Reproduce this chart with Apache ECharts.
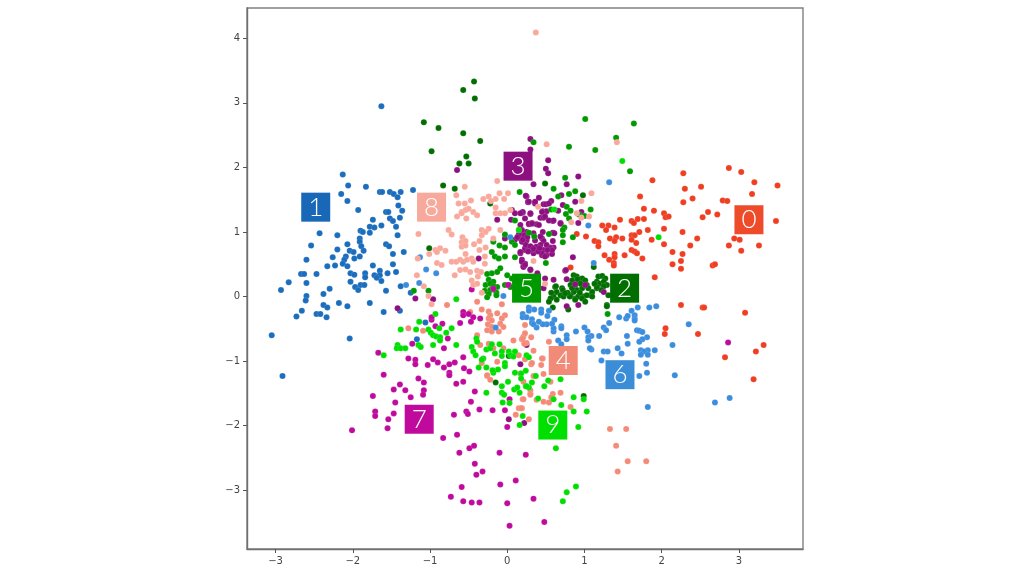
<!DOCTYPE html>
<html><head><meta charset="utf-8">
<style>html,body{margin:0;padding:0;background:#fff}#c{width:1024px;height:576px}</style>
<script src="https://cdn.jsdelivr.net/npm/echarts@6/dist/echarts.min.js"></script></head>
<body><div id="c"></div>
<script>
const tickX=[-3,-2,-1,0,1,2,3];
const tickY=[-3,-2,-1,0,1,2,3,4];
const digits=['0','1','2','3','4','5','6','7','8','9'];
const colors=['#f03e22','#1b6dbd','#006f00','#8e0f80','#f58a78','#009a00','#3b8dde','#c00a9e','#f9a99b','#00e000'];
const boxColors=['#ee4b2b','#1868b7','#006f00','#8e0f80','#f28a78','#009a00','#3b8dd8','#c00a9e','#f7a99b','#00e000'];
const labelPositions=[[3.13,1.19],[-2.48,1.385],[1.52,.13],[.14,2.02],[.725,-.99],[.25,.13],[1.46,-1.21],[-1.14,-1.9],[-.98,1.385],[.59,-1.99]];

const points0=[[2.87,1.99],[3.03,1.93],[3.2,1.77],[3.5,1.72],[2.28,1.91],[1.88,1.8],[2.3,1.67],[2.51,1.7],[3.17,1.59],[1.72,1.55],[2.4,1.52],[2.28,1.46],[2.79,1.49],[2.85,1.48],[1.77,1.36],[1.9,1.33],[2.03,1.29],[2.05,1.23],[2.09,1.24],[2.6,1.31],[2.72,1.27],[2.53,1.23],[3.48,1.17],[1.46,1.19],[1.61,1.17],[1.64,1.14],[1.69,1.2],[1.77,1.2],[1.23,1.1],[1.31,1.1],[1.28,1.03],[1.39,1.07],[1.82,1.03],[2.03,1.05],[1.71,1],[2.27,1],[.9,.97],[1.02,.93],[1.61,.95],[1.65,.95],[1.33,.9],[1.41,.92],[1.49,.9],[1.39,.86],[1.61,.88],[1.87,.88],[2.46,.9],[2.94,.9],[3.01,.88],[1.13,.86],[1.18,.84],[1.18,.78],[1.67,.83],[2.03,.81],[2.37,.79],[2.87,.79],[3.26,.79],[3.03,.71],[1.61,.72],[1.65,.7],[1.68,.67],[2.14,.69],[2.27,.66],[1.26,.64],[1.39,.66],[1.52,.64],[1.75,.59],[1.32,.57],[1.39,.61],[1.38,.52],[1.38,.48],[2.25,.55],[2.14,.5],[2.25,.43],[2.66,.48],[2.69,.5],[.82,.45],[1.91,.3],[2.25,-.13],[2.53,-.17],[2.55,-.17],[3.08,-.25],[2.05,-.49],[2.04,-.58],[2.47,-.58],[3.32,-.75],[3.22,-.85],[2.82,-.94],[3.19,-1.28]];
const points1=[[-1.63,2.95],[-2.13,1.89],[-2.06,1.72],[-2.15,1.59],[-2.07,1.48],[-1.83,1.7],[-1.65,1.62],[-1.62,1.62],[-1.52,1.62],[-1.47,1.59],[-1.42,1.54],[-1.38,1.62],[-1.22,1.65],[-1.93,1.34],[-1.41,1.41],[-1.36,1.33],[-1.57,1.31],[-1.54,1.31],[-1.74,1.19],[-1.52,1.21],[-1.48,1.17],[-1.39,1.22],[-1.63,1.1],[-1.44,1.08],[-1.78,1.08],[-1.72,1.07],[-1.9,1.02],[-1.87,1],[-1.78,.99],[-2.43,.98],[-2.2,.95],[-1.42,.95],[-1.91,.9],[-1.91,.85],[-2.07,.81],[-2.54,.79],[-1.89,.78],[-1.57,.81],[-1.53,.78],[-2.2,.73],[-2.04,.71],[-1.99,.69],[-1.86,.71],[-1.34,.69],[-1.48,.66],[-2.26,.61],[-2.6,.57],[-2.09,.62],[-2.11,.57],[-1.98,.59],[-1.91,.62],[-2.13,.51],[-2.23,.48],[-2.33,.47],[-2.07,.47],[-1.74,.48],[-1.48,.5],[-1.44,.38],[-1.65,.4],[-1.55,.36],[-2.03,.36],[-1.98,.34],[-1.84,.36],[-1.72,.33],[-1.65,.33],[-1.84,.3],[-1.69,.29],[-2.47,.35],[-2.67,.35],[-2.63,.35],[-2.6,.21],[-2.83,.22],[-2.03,.23],[-1.63,.24],[-1.9,.18],[-1.85,.18],[-1.97,.15],[-2.3,.12],[-2.93,.1],[-1.93,.1],[-1.57,.09],[-1.38,.16],[-2.6,.01],[-2.61,-.06],[-2.38,.04],[-2.38,-.13],[-2.33,-.17],[-2.18,-.1],[-2.66,-.22],[-2.73,-.31],[-2.47,-.27],[-2.42,-.27],[-2.34,-.32],[-2.07,-.15],[-1.78,-.1],[-1.6,-.24],[-3.05,-.6],[-2.91,-1.23],[-2.04,-.65],[-1.25,.06],[-1.39,-.22],[-1.17,-.66],[-1.06,-.4]];
const points2=[[-.43,3.33],[-.57,3.2],[-.42,3.07],[-1.08,2.7],[-.89,2.61],[-.57,2.53],[-.35,2.41],[-.98,2.25],[-.53,2.17],[-.62,2.06],[-.5,2.06],[-.83,1.72],[-.68,1.67],[-1.01,.75],[-.22,1.44],[.49,1.75],[.98,1.57],[.86,.33],[.9,.31],[.84,.25],[.92,.23],[.88,.18],[.82,.18],[.97,.28],[1.01,.25],[1.03,.18],[1.05,.13],[.97,.13],[.9,.1],[.86,.07],[.82,.02],[.88,-.03],[.92,0],[.99,0],[1.08,.02],[1.18,.31],[1.23,.32],[1.27,.28],[1.16,.23],[1.2,.2],[1.25,.23],[1.29,.18],[1.16,.13],[1.1,.07],[.62,.15],[.64,.07],[.69,.02],[.6,0],[.56,-.03],[.54,-.08],[.64,-.05],[.71,.13],[1.29,-.13],[1.29,-.15],[.59,-.17],[.79,-.2],[.99,-1.54],[1.25,.16],[1.31,.02],[.72,.1],[.63,.16],[.57,.06],[.73,0],[.84,.13],[.81,0],[.88,-.05],[.97,-.03],[1.03,.02],[1.1,0],[1.01,-.08],[1.16,.15],[1.22,.1],[1.12,.46],[-.15,-1.33],[.02,-.92],[.94,.06],[.78,.06],[.91,.27],[.95,.2],[.75,.05],[1.13,.2]];
const points3=[[.3,2.44],[.3,2.28],[.53,2.11],[.5,1.98],[.53,1.91],[.34,1.74],[.92,1.86],[.77,1.74],[.41,1.53],[.25,1.55],[.36,1.44],[.27,1.46],[.57,1.48],[.7,1.57],[.72,1.42],[.88,1.47],[.66,1.33],[.47,1.43],[.5,1.43],[.46,1.32],[.51,1.32],[.2,1.3],[.3,1.28],[.43,1.22],[.47,1.22],[.59,1.17],[.69,1.14],[.92,1.14],[.96,1.31],[.38,1.12],[.28,1.12],[.32,1.14],[.46,1],[.59,.99],[.61,.98],[.45,.9],[.59,.86],[.47,.86],[.43,.8],[.6,.76],[.56,.76],[.36,.76],[.28,.75],[.23,.72],[.45,.64],[.51,.64],[.58,.66],[.85,.61],[.34,.67],[.23,.51],[.21,.47],[.3,.41],[.75,.4],[.39,.36],[-.65,1.96],[.24,1.56],[.27,1.47],[.06,1.34],[.1,1.29],[.2,1.31],[.05,1.19],[-.13,1.19],[.17,1.11],[.2,1],[.25,1],[.1,.88],[.17,.9],[.21,.85],[.23,.75],[.17,.67],[.19,.57],[.23,.51],[.21,.46],[-.03,.9],[-.37,.59],[.17,1.29],[.23,1.21],[.28,1.47],[.36,1.47],[.54,1.44],[.3,1.29],[.45,1.31],[.49,1.24],[.28,1.13],[.32,1.13],[.41,1.11],[.19,1.03],[.23,.95],[.17,.93],[.25,.87],[.19,.85],[.36,.87],[.38,.77],[.28,.75],[.32,.72],[.17,.69],[.47,.72],[.51,.8],[.56,.75],[.45,.67],[.49,.62],[.58,.72],[.19,.54],[.23,.49],[.3,.42],[.34,.98],[.43,.93],[.54,1.18],[.69,1.13],[.6,1.18],[.76,.41],[.6,.26],[.49,.28],[.77,.27],[.88,.19],[1.01,.18],[1.25,.07],[.77,-.15],[.92,-.13],[.47,.13],[-.18,.11],[.02,.18],[-1.19,-.03],[-1.42,-.18],[.17,-1.05],[.02,-1.9],[.22,-1.96],[-.96,-.04],[.25,-.75],[.22,.95],[.26,.92],[.2,.88],[.24,.8],[.3,.78],[.34,.74],[.4,.7],[.52,.72],[.42,.75],[.27,.7],[.15,.96],[.13,.92]];
const points4=[[-.78,-.13],[-1.28,-.49],[-1.09,-.53],[-.07,-.12],[-.39,-.08],[-.48,-.24],[-.33,-.2],[-.24,-.23],[-.22,-.29],[-.24,-.34],[-.2,-.37],[-.25,-.43],[-.2,-.47],[-.26,-.52],[-.13,-.26],[-.03,-.29],[-.07,-.34],[-.09,-.42],[-.05,-.47],[-.11,-.54],[-.2,-.54],[-.39,-.6],[.08,-.68],[.21,-.62],[.23,-.57],[.19,-.66],[.25,-.72],[-.24,-.73],[-.35,-.75],[-.18,-.8],[-.05,-.8],[.15,-.91],[-.13,-1.01],[-.33,-1.03],[-.26,-1.23],[.2,-1.59],[.15,-1.73],[.19,-1.73],[.11,-1.83],[.28,-1.9],[.21,-1.32],[.3,-1.5],[.23,-.44],[.2,-.65],[.31,-.63],[.22,-.73],[.54,-.7],[.34,-.84],[.46,-.96],[.44,-1.06],[.31,-1.05],[.47,-1.2],[.23,-.97],[.56,-1.32],[.34,-1.23],[.3,-1.45],[.3,-1.52],[.69,-1.49],[.59,-1.51],[.57,-1.56],[.38,-1.6],[.47,-1.63],[.54,-1.64],[.21,-1.59],[.82,-1.71],[.18,-1.73],[1.33,-2.05],[1.54,-2.05],[1.41,-2.31],[1.56,-2.55],[1.8,-2.55],[1.43,-2.71],[.32,-1.03],[.45,-.96],[.17,-1.19],[-.26,-1.22],[-.22,-1.29]];
const points5=[[1.01,2.75],[1.64,2.68],[1.41,2.46],[.8,2.32],[1.14,2.27],[1.59,1.94],[.34,2.39],[.75,1.84],[.6,1.67],[.8,1.59],[.88,1.63],[.66,1.55],[.77,1.39],[.82,1.33],[.76,1.28],[.8,1.21],[.93,1.27],[1,1.25],[1.08,1.35],[.57,1.35],[.74,1.07],[.72,1.03],[.72,.95],[.54,.97],[.85,.92],[.72,.84],[.5,.52],[.35,.93],[.28,.99],[.16,1.62],[-.03,.96],[-.1,.79],[-.03,.76],[-.18,.85],[-.2,.69],[-.16,.62],[-.11,.59],[-.03,.62],[.1,.61],[.1,1.18],[.15,1.03],[-1.02,.09],[-1.21,.09],[-.09,.44],[-.13,.38],[-.2,.36],[-.26,.35],[-.24,.26],[-.18,.23],[0,.33],[.06,.28],[-.28,.18],[-.13,.15],[-.03,.18],[.04,.15],[-.22,.1],[.06,.85],[.1,.8],[-.29,.09],[-.24,.04],[-.26,-.01],[-.14,.06],[-.14,.02],[-.22,.2],[-.18,.16],[1.3,-.27]];
const points6=[[1.93,-.15],[1.84,-.17],[1.69,-.17],[1.61,-.22],[1.65,-.29],[1.65,-.34],[1.65,-.37],[1.54,-.34],[1.56,-.3],[1.45,-.32],[1.32,-.41],[1.25,-.48],[1.28,-.52],[2.35,-.43],[1,-.48],[1.04,-.54],[1.09,-.61],[1.05,-.63],[1.05,-.68],[1.19,-.61],[.89,-.54],[.77,-.6],[.77,-.66],[.7,-.46],[.7,-.49],[.6,-.54],[.6,-.49],[.61,-.36],[.58,-.42],[.51,-.43],[.46,-.43],[.52,-.3],[.54,-.22],[.44,-.2],[.44,-.25],[.35,-.2],[.28,-.17],[.28,-.22],[.2,-.27],[.2,-.32],[.25,-.32],[.32,-.35],[.32,-.41],[.38,-.48],[.34,-.43],[.41,-.39],[1.55,-.61],[1.68,-.52],[1.71,-.53],[1.75,-.55],[1.81,-.63],[1.75,-.66],[1.71,-.7],[1.56,-.73],[2.14,-.75],[1.09,-.82],[1.07,-.8],[1.43,-.8],[1.48,-.88],[1.25,-.85],[1.3,-.85],[1.22,-.99],[1.91,-.83],[1.82,-.83],[1.73,-.83],[1.77,-.85],[1.73,-.9],[1.82,-.9],[1.8,-1.04],[1.81,-1.18],[1.71,-1.23],[2.17,-1.22],[.66,-.68],[.7,-.74],[1.82,-1.71],[2.69,-1.64],[2.88,-1.57],[1.05,1.1],[1.32,1.77],[1.12,.52],[-1.13,.61],[-1.05,.42],[-.92,.36],[-1.14,.21],[.04,.92],[-1.31,.18],[-.15,-.48],[-.05,.01]];
const points7=[[-1.67,-.87],[-1.6,-1.21],[-1.28,-.96],[-1.23,-.73],[-1.19,-.98],[-1.19,-1.05],[-.96,-.97],[-1.03,-1.06],[-.9,-1.02],[-.82,-1.1],[-.75,-1.05],[-.68,-1.02],[-.57,-.94],[-.56,-1.11],[-.49,-1.16],[-.75,-1.18],[-.75,-1.22],[-1.15,-1.27],[-1.08,-1.33],[-1.39,-1.36],[-1.47,-1.44],[-1.32,-1.45],[-1.08,-1.45],[-1.09,-1.52],[-1.25,-1.56],[-1.74,-1.54],[-1.45,-1.64],[-1.71,-1.78],[-1.71,-1.85],[-1.47,-1.81],[-1.54,-1.9],[-1.55,-2.04],[-2.01,-2.07],[-.66,-1.35],[-.57,-1.32],[-.42,-1.47],[-.47,-1.63],[-.53,-1.78],[-.51,-1.82],[-.36,-1.75],[-.19,-1.76],[-.03,-1.76],[.03,-1.59],[-.69,-1.83],[-.83,-2.19],[-.65,-2.14],[0,-2.02],[-.62,-2.42],[-.49,-2.35],[-.43,-2.31],[-.1,-2.42],[.24,-2.45],[-.42,-2.59],[-.32,-2.71],[-.4,-2.76],[-.59,-2.95],[-.09,-2.91],[.11,-2.85],[-.73,-3.1],[-.57,-3.17],[-.46,-3.19],[-.36,-3.19],[0,-3.2],[.03,-3.55],[.34,-3.13],[.48,-3.49],[2.86,-.71],[-.98,-.36],[-.98,-.32],[-.93,-.46],[-.84,-.42],[-.77,-.65],[-.82,-.8],[-.61,-.41],[-.57,-.24],[-.57,-.29],[-.5,-.27],[-.44,-.32],[-.47,-.39],[-.35,-.34],[-.46,.11],[.01,.18],[-.18,.12]];
const points8=[[-.13,1.79],[-.55,1.7],[-.66,1.57],[-.63,1.44],[-.55,1.44],[-.47,1.49],[-.1,1.6],[.01,1.6],[-.04,1.51],[-.15,1.51],[-.24,1.55],[-.31,1.51],[-.21,1.48],[-.15,1.38],[-.15,1.29],[-.09,1.29],[-.03,1.29],[.04,1.34],[-.59,1.31],[-.54,1.34],[-.5,1.36],[-.65,1.24],[-.59,1.29],[-.44,1.31],[-.39,1.26],[-.53,1.21],[-.76,1.03],[-.72,.96],[-1.15,.97],[-.33,1.03],[-.24,1.05],[-.28,1],[-.33,.95],[-.36,.86],[-.58,.92],[-.59,.84],[-.59,.77],[-.54,.86],[-.54,.79],[-.09,1.03],[-.18,.9],[-.28,.76],[-.36,.72],[-.43,.81],[-.93,.72],[-.87,.75],[-.8,.71],[-.91,.69],[-1.01,.66],[-1.16,.59],[-.91,.52],[-.85,.49],[-.72,.54],[-.66,.54],[-.61,.57],[-.54,.66],[-.46,.59],[-.29,.62],[-.57,.54],[-.52,.57],[-.44,.54],[-.29,.51],[-.61,.41],[-.68,.33],[-.54,.42],[-.48,.38],[-.39,.4],[-.34,.38],[-.38,.31],[-.46,.25],[-.44,.18],[-1.17,.33],[-1.08,.16],[-1.02,.01],[-.98,-.12],[-.39,.2],[-.33,.06],[.37,4.09],[.51,2.36],[1.42,2.39],[1.09,1.6],[.96,1.48],[.4,1.39],[.9,1.29],[.96,1.22],[1.06,1.24],[.83,1.15],[.49,.2],[.34,.55]];
const points9=[[-.66,-.04],[-.93,-.27],[-1.14,-.39],[-1.38,-.51],[-1.18,-.51],[-.88,-.49],[-.72,-.49],[-.79,-.56],[-1.02,-.51],[-.99,-.56],[-.96,-.6],[-.92,-.62],[-.87,-.63],[-.87,-.68],[-.96,-.75],[-.66,-.75],[-1.42,-.75],[-1.43,-.8],[-1.38,-.8],[-1.32,-.8],[-1.15,-.75],[-1.12,-.78],[-1.6,-.91],[-.4,-.65],[-.39,-.7],[-.46,-.78],[-.44,-.85],[-.41,-.91],[-.27,-.82],[-.22,-.8],[-.2,-.74],[-.1,-.74],[-.16,-.88],[-.07,-.85],[-.07,-.92],[-.31,-.96],[-.33,-.98],[-.37,-1.1],[-.27,-1.1],[-.12,-1.13],[-.03,-1.03],[-.03,-1.08],[-.18,-1.18],[-.19,-1.14],[.1,-1.18],[.18,-1.19],[.24,-1.15],[.18,-1.27],[.01,-1.32],[-.07,-1.39],[.09,-1.44],[.13,-1.41],[.16,-1.49],[-.27,-1.49],[-.07,-1.49],[-.04,-1.52],[-.06,-1.64],[.03,-1.65],[.2,-1.85],[.16,-1.99],[.02,-.85],[.1,-.85],[.04,-.91],[.08,-.93],[.25,-.91],[.28,-1.41],[.24,-1.39],[.28,-.94],[.37,-1.23],[.32,-1.33],[.25,-1.39],[.53,-1.3],[.69,-1.28],[.48,-1.39],[.4,-1.58],[.6,-1.59],[.7,-1.68],[.86,-1.56],[.99,-1.59],[.86,-1.78],[1.03,-1.78],[.92,-2.02],[.63,-2.35],[.89,-2.94],[.77,-3.03],[.72,-3.17],[1.49,2.1],[1.96,.92],[.61,1.35],[.15,1.03]];
const pointSets=[points0,points1,points2,points3,points4,points5,points6,points7,points8,points9];

const axisFont={fontFamily:'"DejaVu Sans"',fontSize:10,color:'#444'};
const fmt=v=>String(v).replace('-','\u2212');
const common={axisLine:{show:true,onZero:false,lineStyle:{color:'#707070',width:1.4}},splitLine:{show:false}};
const series=pointSets.map((d,i)=>({type:'scatter',name:digits[i],data:d,symbolSize:6,z:2+i,silent:true,
  itemStyle:{color:colors[i],opacity:1,borderColor:'rgba(255,255,255,0.3)',borderWidth:0.4}}));
series.push({type:'scatter',z:30,silent:true,symbol:'rect',symbolSize:[29,29],
  data:labelPositions.map((p,i)=>({value:p,name:digits[i],itemStyle:{color:boxColors[i],opacity:1}})),
  label:{show:true,position:'inside',formatter:p=>p.name,color:'#fff',fontFamily:'Lato',fontWeight:300,fontSize:26}});
const chart=echarts.init(document.getElementById('c'),null,{renderer:'canvas'});
chart.setOption({animation:false,backgroundColor:'#fff',legend:{show:false},tooltip:{show:false},
 grid:{left:247,top:8,right:221,bottom:27,show:true,borderColor:'#808080',borderWidth:1.4,backgroundColor:'#fff'},
 xAxis:{type:'value',min:-3.37,max:3.83,...common,
   axisTick:{show:true,length:4,customValues:tickX,lineStyle:{color:'#555'}},
   axisLabel:{...axisFont,margin:7,customValues:tickX,formatter:fmt}},
 yAxis:{type:'value',min:-3.91,max:4.47,...common,
   axisTick:{show:true,length:4,customValues:tickY,lineStyle:{color:'#555'}},
   axisLabel:{...axisFont,margin:7,customValues:tickY,formatter:fmt}},
 series});
</script></body></html>
